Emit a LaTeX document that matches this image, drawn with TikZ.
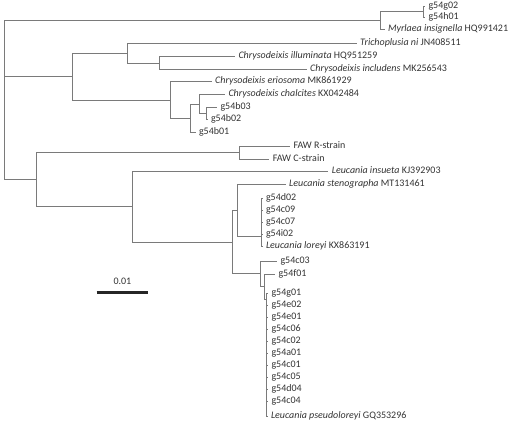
\documentclass[tikz,border=0pt]{standalone}
\usepackage{fontspec}
\setmainfont{Carlito}

\definecolor{branchgray}{HTML}{7A7A7A}
\definecolor{labelgray}{HTML}{333333}

\tikzset{
    branch/.style={draw=branchgray, line width=0.8pt},
    lab/.style={text=labelgray, inner sep=3.3pt, font=\fontsize{10}{12}\selectfont, text height=6.5pt, text depth=2pt},
    leaf/.style={lab, anchor=west},
    scalebar/.style={draw=black!85, line width=2.8pt}
}

\begin{document}
\begin{tikzpicture}[x=1pt, y=-1pt]
    \useasboundingbox (0,0) rectangle (510,424);

    % internal nodes
    \coordinate (root) at (4.3,76.7);
    \coordinate (nMyr) at (380.5,20.7);
    \coordinate (nG) at (423,11.5);
    \coordinate (nChr) at (72.7,76.7);
    \coordinate (nTri) at (127.7,53);
    \coordinate (nIll) at (159.3,63);
    \coordinate (nEri) at (170.7,100);
    \coordinate (nB) at (190.5,118.3);
    \coordinate (nC) at (199,104.5);
    \coordinate (nD) at (206.7,113.5);
    \coordinate (nE) at (36.7,179.3);
    \coordinate (nFAW) at (239.3,152.7);
    \coordinate (nLeu) at (132.7,206.5);
    \coordinate (nH) at (232.3,242.3);
    \coordinate (nM) at (237,210);
    \coordinate (nN) at (261,236);
    \coordinate (nI) at (260,273.5);
    \coordinate (nJ) at (264.3,286.7);
    \coordinate (nK) at (266.7,299);

    % leaves
    \node[leaf](g02) at (425,6){g54g02};
    \node[leaf](h01) at (425,17){g54h01};
    \node[leaf](myr) at (384.5,29.3){\textit{Myrlaea insignella} HQ991421};
    \node[leaf](tri) at (356.7,43.3){\textit{Trichoplusia ni} JN408511};
    \node[leaf](ill) at (235,56.3){\textit{Chrysodeixis illuminata} HQ951259};
    \node[leaf](inc) at (306.7,69.3){\textit{Chrysodeixis includens} MK256543};
    \node[leaf](eri) at (211.7,81.3){\textit{Chrysodeixis eriosoma} MK861929};
    \node[leaf](cha) at (225,94.3){\textit{Chrysodeixis chalcites} KX042484};
    \node[leaf](b03) at (217,107.7){g54b03};
    \node[leaf](b02) at (207.5,119.3){g54b02};
    \node[leaf](b01) at (195.5,132.7){g54b01};
    \node[leaf](fawr) at (290,146){FAW R-strain};
    \node[leaf](fawc) at (269.3,159.3){FAW C-strain};
    \node[leaf](ins) at (328.3,171.7){\textit{Leucania insueta} KJ392903};
    \node[leaf](ste) at (285.7,184.3){\textit{Leucania stenographa} MT131461};
    \node[leaf](d02) at (262.5,198.5){g54d02};
    \node[leaf](c09) at (262.5,210.5){g54c09};
    \node[leaf](c07) at (262.5,222.5){g54c07};
    \node[leaf](i02) at (262.5,234.3){g54i02};
    \node[leaf](lor) at (262.5,246.3){\textit{Leucania loreyi} KX863191};
    \node[leaf](c03) at (277,261){g54c03};
    \node[leaf](f01) at (275,274){g54f01};
    \node[leaf](g01) at (268,293){g54g01};
    \node[leaf](e02) at (268,305){g54e02};
    \node[leaf](e01) at (268,317){g54e01};
    \node[leaf](c06) at (268,329){g54c06};
    \node[leaf](c02) at (268,341){g54c02};
    \node[leaf](a01) at (268,353){g54a01};
    \node[leaf](c01) at (268,365){g54c01};
    \node[leaf](c05) at (268,377){g54c05};
    \node[leaf](d04) at (268,389){g54d04};
    \node[leaf](c04) at (268,401){g54c04};
    \node[leaf](pse) at (267.5,416.7){\textit{Leucania pseudoloreyi} GQ353296};

    % branches
    \draw[branch](root) |- (nMyr);
    \draw[branch](root) |- (nChr);
    \draw[branch](root) |- (nE);

    \draw[branch](nMyr) |- (nG);
    \draw[branch](nMyr) |- (myr.west);
    \draw[branch](nG) |- (g02.west);
    \draw[branch](nG) |- (h01.west);

    \draw[branch](nChr) |- (nTri);
    \draw[branch](nChr) |- (nEri);
    \draw[branch](nTri) |- (tri.west);
    \draw[branch](nTri) |- (nIll);
    \draw[branch](nIll) |- (ill.west);
    \draw[branch](nIll) |- (inc.west);
    \draw[branch](nEri) |- (eri.west);
    \draw[branch](nEri) |- (nB);
    \draw[branch](nB) |- (nC);
    \draw[branch](nB) |- (b01.west);
    \draw[branch](nC) |- (cha.west);
    \draw[branch](nC) |- (nD);
    \draw[branch](nD) |- (b03.west);
    \draw[branch](nD) |- (b02.west);

    \draw[branch](nE) |- (nFAW);
    \draw[branch](nE) |- (nLeu);
    \draw[branch](nFAW) |- (fawr.west);
    \draw[branch](nFAW) |- (fawc.west);
    \draw[branch](nLeu) |- (ins.west);
    \draw[branch](nLeu) |- (nH);
    \draw[branch](nH) |- (nM);
    \draw[branch](nH) |- (nI);
    \draw[branch](nM) |- (ste.west);
    \draw[branch](nM) |- (nN);
    \draw[branch](nN) |- (d02.west);
    \draw[branch](nN) |- (c09.west);
    \draw[branch](nN) |- (c07.west);
    \draw[branch](nN) |- (i02.west);
    \draw[branch](nN) |- (lor.west);
    \draw[branch](nI) |- (c03.west);
    \draw[branch](nI) |- (nJ);
    \draw[branch](nJ) |- (f01.west);
    \draw[branch](nJ) |- (nK);
    \draw[branch](nK) |- (g01.west);
    \draw[branch](nK) |- (e02.west);
    \draw[branch](nK) |- (e01.west);
    \draw[branch](nK) |- (c06.west);
    \draw[branch](nK) |- (c02.west);
    \draw[branch](nK) |- (a01.west);
    \draw[branch](nK) |- (c01.west);
    \draw[branch](nK) |- (c05.west);
    \draw[branch](nK) |- (d04.west);
    \draw[branch](nK) |- (c04.west);
    \draw[branch](nK) |- (pse.west);

    % scale bar
    \coordinate (barL) at (96.5,292.7);
    \coordinate (barR) at (148.3,292.7);
    \draw[scalebar](barL) -- (barR)
    node[lab, midway, above=1.5pt]{0.01};
\end{tikzpicture}
\end{document}
